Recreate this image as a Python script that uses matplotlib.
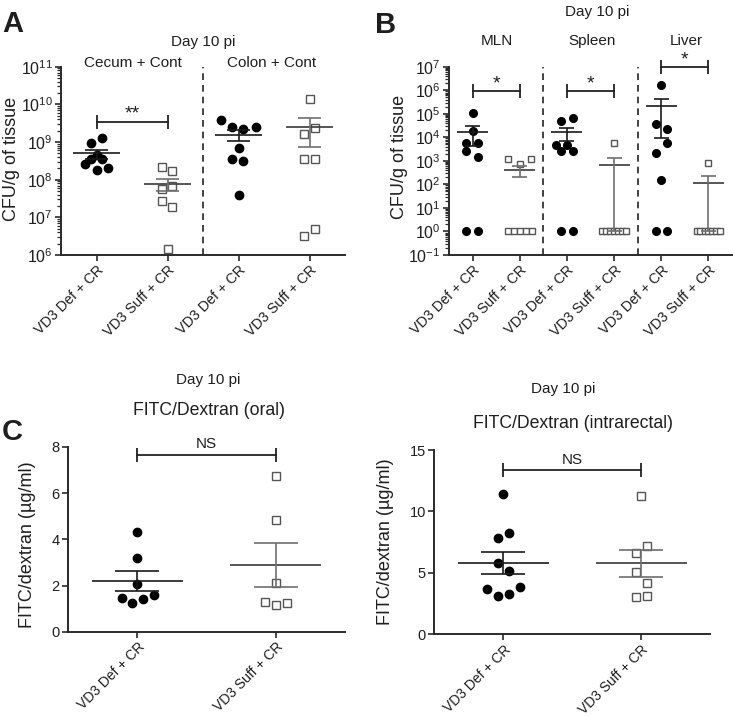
import numpy as np
import matplotlib
matplotlib.use("Agg")
import matplotlib.pyplot as plt
from matplotlib.ticker import LogLocator, NullFormatter, LogFormatterSciNotation, FixedLocator

plt.rcParams['font.family'] = ['Liberation Sans', 'DejaVu Sans']
plt.rcParams['mathtext.fontset'] = 'custom'
plt.rcParams['mathtext.rm'] = 'Liberation Sans'
plt.rcParams['mathtext.it'] = 'Liberation Sans'
plt.rcParams['axes.unicode_minus'] = True

TXT = '#1e1e1e'
SP = '#2a2a2a'

# ---------------- data ----------------
groups = ["VD3 Def + CR", "VD3 Suff + CR"]

# Panel A (CFU/g of tissue)
cecum_def = [9.5e8, 1.25e9, 4.5e8, 3.5e8, 3.5e8, 2.6e8, 2.1e8, 1.8e8]
cecum_def_off = [-0.08, 0.08, 0, -0.08, 0.08, -0.16, 0.16, 0]
cecum_suff = [2.2e8, 1.7e8, 6.9e7, 5.5e7, 2.7e7, 1.9e7, 1.4e6]
cecum_suff_off = [-0.08, 0.07, 0.07, -0.08, -0.08, 0.07, 0]
colon_def = [3.8e9, 2.5e9, 2.2e9, 2.5e9, 7.1e8, 3.5e8, 3.1e8, 3.9e7]
colon_def_off = [-0.24, -0.09, 0.07, 0.24, 0, -0.09, 0.07, 0]
colon_suff = [1.4e10, 2.3e9, 1.6e9, 3.5e8, 3.5e8, 3.2e6, 4.8e6]
colon_suff_off = [0, 0.08, -0.08, -0.08, 0.08, -0.08, 0.08]
# mean, lower, upper (mean +/- SEM)
cecum_def_stat = [5.0e8, 3.5e8, 6.3e8]
cecum_suff_stat = [7.9e7, 5.0e7, 1.07e8]
colon_def_stat = [1.58e9, 1.07e9, 2.1e9]
colon_suff_stat = [2.5e9, 7.2e8, 4.4e9]
a_sites = ["Cecum + Cont", "Colon + Cont"]
a_sig = 3.5e9

# Panel B
mln_def = [1.07e5, 1.9e4, 5.6e3, 5.6e3, 2.6e3, 1.4e3, 1, 1]
mln_def_off = [0, 0, -0.13, 0.12, -0.13, 0.12, -0.13, 0.12]
mln_suff = [1.2e3, 715, 1.2e3, 1, 1, 1, 1, 1]
mln_suff_off = [-0.24, 0, 0.24, -0.25, -0.125, 0, 0.125, 0.25]
spleen_def = [4.7e4, 6.5e4, 4.8e3, 4.8e3, 2.7e3, 2.5e3, 1, 1]
spleen_def_off = [-0.12, 0.13, -0.24, 0, -0.12, 0.13, -0.12, 0.13]
spleen_suff = [5.6e3, 1, 1, 1, 1, 1, 1, 1]
spleen_suff_off = [0, -0.25, -0.17, -0.08, 0, 0.08, 0.17, 0.25]
liver_def = [1.7e6, 3.6e4, 2.3e4, 6e3, 2.1e3, 154, 1, 1]
liver_def_off = [0, -0.12, 0.13, 0.13, -0.12, 0, -0.12, 0.13]
liver_suff = [835, 1, 1, 1, 1, 1, 1, 1]
liver_suff_off = [0, -0.25, -0.17, -0.08, 0, 0.08, 0.17, 0.25]
mln_def_stat = [1.75e4, 4.4e3, 2.9e4]
mln_suff_stat = [410, 200, 605]
spleen_def_stat = [1.66e4, 7.1e3, 2.5e4]
spleen_suff_stat = [665, 1, 1380]
liver_def_stat = [2.2e5, 9.2e3, 4.2e5]
liver_suff_stat = [118, 1, 234]
b_sites = ["MLN", "Spleen", "Liver"]
b_sig = [9.5e5, 9.5e5, 1e7]

# Panel C
oral_def = [4.31, 3.21, 2.05, 1.48, 1.59, 1.40, 1.26]
oral_def_off = [0, 0, 0, -0.11, 0.12, 0.045, -0.035]
oral_suff = [6.73, 4.85, 2.13, 1.30, 1.23, 1.16]
oral_suff_off = [0, 0, 0, -0.08, 0.08, 0]
oral_def_stat = [2.2, 1.77, 2.63]
oral_suff_stat = [2.89, 1.92, 3.83]
oral_sig = 7.67
ir_def = [11.39, 8.21, 7.85, 5.76, 5.11, 3.64, 3.86, 3.13, 3.26]
ir_def_off = [0, 0.04, -0.04, -0.04, 0.04, -0.12, 0.12, -0.04, 0.04]
ir_suff = [11.28, 7.2, 6.58, 5.08, 4.18, 3.04, 3.13]
ir_suff_off = [0, 0.04, -0.04, -0.04, 0.04, -0.04, 0.04]
ir_def_stat = [5.82, 4.86, 6.71]
ir_suff_stat = [5.82, 4.67, 6.85]
ir_sig = 13.37

# ---------------- figure ----------------
W, H = 733, 718
fig = plt.figure(figsize=(W / 100, H / 100), dpi=100)


def px_axes(x0, y0, x1, y1):
    return fig.add_axes([x0 / W, 1 - y1 / H, (x1 - x0) / W, (y1 - y0) / H])


def style(ax, labsize=10):
    for s in ['top', 'right']:
        ax.spines[s].set_visible(False)
    for s in ['left', 'bottom']:
        ax.spines[s].set_linewidth(1.4)
        ax.spines[s].set_color(SP)
    ax.tick_params(axis='both', which='major', direction='out', length=4.5,
                   width=1.2, color=SP, labelcolor=TXT, labelsize=labsize, pad=1.5)
    ax.tick_params(axis='y', which='minor', direction='out', length=3,
                   width=0.9, color=SP)
    ax.patch.set_alpha(0)


def group(ax, x, vals, offs, stat, kind, ms=6.0, msq=5.5):
    xs = x + np.array(offs)
    if kind == 'def':
        ax.plot(xs, vals, 'o', ms=ms, color='black', mec='black', zorder=3, clip_on=False)
        lc, ec = '#1a1a1a', '#1a1a1a'
    else:
        ax.plot(xs, vals, 's', ms=msq, mfc='white', mec='#555555', mew=1.0,
                zorder=3, clip_on=False)
        lc, ec = '#3a3a3a', '#6e6e6e'
    m, lo, hi = stat
    ax.hlines(m, x - 0.33, x + 0.33, color=lc, lw=1.2, zorder=4)
    ax.vlines(x, lo, hi, color=ec, lw=1.2, zorder=4)
    ax.hlines([lo, hi], x - 0.16, x + 0.16, color=ec, lw=1.2, zorder=4)


def sig(ax, x0, x1, y, label, size=13, dy=1.5):
    ax.plot([x0, x1], [y, y], color='#222222', lw=1.3, clip_on=False)
    ax.plot([x0, x1], [y, y], ls='none', marker='|', ms=10, mew=1.3,
            color='#222222', clip_on=False)
    ax.annotate(label, xy=((x0 + x1) / 2, y), xytext=(0, dy), textcoords='offset points',
                ha='center', va='bottom', fontsize=size, color=TXT, annotation_clip=False)


def xlabels(ax, labels, size=10.3):
    ax.set_xticklabels(labels, rotation=45, ha='right', rotation_mode='anchor',
                       fontsize=size, color=TXT)


def logaxis(ax, lo, hi):
    ax.set_yscale('log')
    ax.set_ylim(lo, hi)
    ax.yaxis.set_major_locator(LogLocator(base=10, numticks=30))
    ax.yaxis.set_minor_locator(LogLocator(base=10, subs=np.arange(2, 10), numticks=30))
    ax.yaxis.set_major_formatter(LogFormatterSciNotation())
    ax.yaxis.set_minor_formatter(NullFormatter())


# ---------- Panel A ----------
axA = px_axes(61, 66.7, 345, 255)
style(axA, labsize=11.5)
logaxis(axA, 1e6, 1e11)
axA.set_xlim(-0.5, 3.5)
group(axA, 0, cecum_def, cecum_def_off, cecum_def_stat, 'def')
group(axA, 1, cecum_suff, cecum_suff_off, cecum_suff_stat, 'suff')
group(axA, 2, colon_def, colon_def_off, colon_def_stat, 'def')
group(axA, 3, colon_suff, colon_suff_off, colon_suff_stat, 'suff')
axA.axvline(1.5, color='#222222', lw=1.2, ls=(0, (4, 3)))
sig(axA, 0, 1, a_sig, '**', size=14, dy=-1)
axA.set_xticks([0, 1, 2, 3])
xlabels(axA, groups * 2)
for i, s in enumerate(a_sites):
    axA.text(0.52 + 1.95 * i, 1e11, s, ha='center', va='baseline', fontsize=11,
             color=TXT)

# ---------- Panel B ----------
axB = px_axes(449, 66.7, 732, 255)
style(axB, labsize=11.5)
logaxis(axB, 1e-1, 1e7)
axB.set_xlim(-0.5, 5.5)
bkw = dict(ms=5.5, msq=4.8)
group(axB, 0, mln_def, mln_def_off, mln_def_stat, 'def', **bkw)
group(axB, 1, mln_suff, mln_suff_off, mln_suff_stat, 'suff', **bkw)
group(axB, 2, spleen_def, spleen_def_off, spleen_def_stat, 'def', **bkw)
group(axB, 3, spleen_suff, spleen_suff_off, spleen_suff_stat, 'suff', **bkw)
group(axB, 4, liver_def, liver_def_off, liver_def_stat, 'def', **bkw)
group(axB, 5, liver_suff, liver_suff_off, liver_suff_stat, 'suff', **bkw)
for xv in (1.5, 3.5):
    axB.axvline(xv, color='#222222', lw=1.2, ls=(0, (4, 3)))
for i, y in enumerate(b_sig):
    sig(axB, 2 * i, 2 * i + 1, y, '*', size=14, dy=-1)
axB.set_xticks(range(6))
xlabels(axB, groups * 3)

# ---------- Panel C ----------
ckw = dict(ms=6.0, msq=5.8)
axC1 = px_axes(68, 447, 345, 631.7)
style(axC1, labsize=10.5)
axC1.set_xlim(-0.5, 1.5)
axC1.set_ylim(0, 8)
axC1.yaxis.set_major_locator(FixedLocator([0, 2, 4, 6, 8]))
group(axC1, 0, oral_def, oral_def_off, oral_def_stat, 'def', **ckw)
group(axC1, 1, oral_suff, oral_suff_off, oral_suff_stat, 'suff', **ckw)
sig(axC1, 0, 1, oral_sig, 'NS', size=11, dy=2.5)
axC1.set_xticks([0, 1])
xlabels(axC1, groups, size=10)

axC2 = px_axes(434.3, 450, 710, 634)
style(axC2, labsize=10.5)
axC2.set_xlim(-0.5, 1.5)
axC2.set_ylim(0, 15)
axC2.yaxis.set_major_locator(FixedLocator([0, 5, 10, 15]))
group(axC2, 0, ir_def, ir_def_off, ir_def_stat, 'def', **ckw)
group(axC2, 1, ir_suff, ir_suff_off, ir_suff_stat, 'suff', **ckw)
sig(axC2, 0, 1, ir_sig, 'NS', size=11, dy=2.5)
axC2.set_xticks([0, 1])
xlabels(axC2, groups, size=10)

# ---------- figure texts ----------
def ftext(x, y, s, **kw):
    fig.text(x / W, 1 - y / H, s, color=TXT, **kw)

ftext(2, 32, 'A', fontsize=21, fontweight='bold', ha='left', va='baseline')
ftext(375, 33, 'B', fontsize=21, fontweight='bold', ha='left', va='baseline')
ftext(2, 440, 'C', fontsize=21, fontweight='bold', ha='left', va='baseline')

ftext(203, 46, 'Day 10 pi', fontsize=11, ha='center', va='baseline')
ftext(597, 15.7, 'Day 10 pi', fontsize=11, ha='center', va='baseline')
for s, xc in zip(b_sites, [496.7, 591.7, 686.7]):
    ftext(xc, 45, s, fontsize=11, ha='center', va='baseline')

ftext(208.5, 384, 'Day 10 pi', fontsize=11, ha='center', va='baseline')
ftext(208.7, 415, 'FITC/Dextran (oral)', fontsize=12.7, ha='center', va='baseline')
ftext(562.7, 392.7, 'Day 10 pi', fontsize=11, ha='center', va='baseline')
ftext(573.3, 428.3, 'FITC/Dextran (intrarectal)', fontsize=12.7, ha='center', va='baseline')

ftext(3, 159.2, 'CFU/g of tissue', fontsize=13, rotation=90, ha='left', va='center')
ftext(391, 156.7, 'CFU/g of tissue', fontsize=13, rotation=90, ha='left', va='center')
ftext(19, 545, 'FITC/dextran (µg/ml)', fontsize=13, rotation=90, ha='left', va='center')
ftext(377, 541.7, 'FITC/dextran (µg/ml)', fontsize=13, rotation=90, ha='left', va='center')

fig.savefig('out.png', dpi=100)
